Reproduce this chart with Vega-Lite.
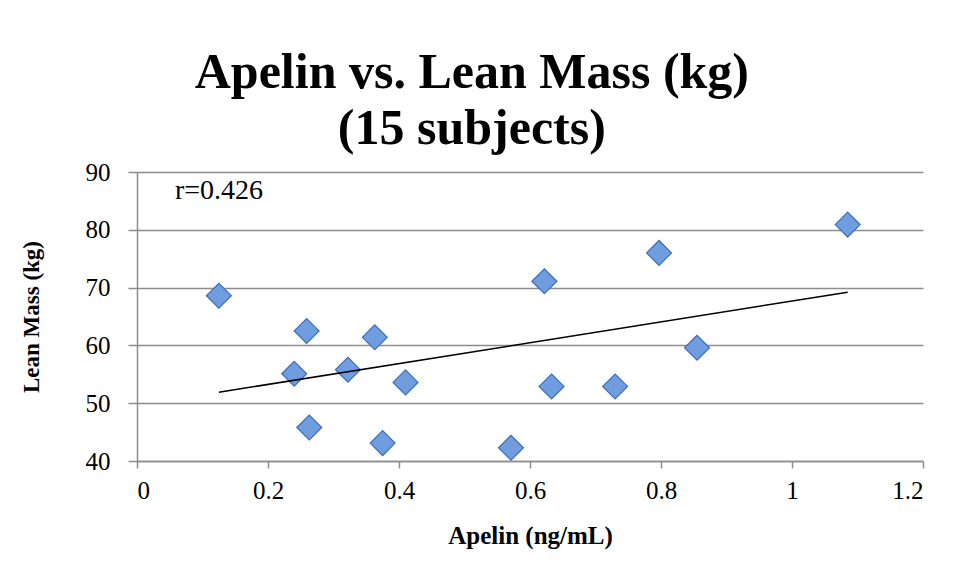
{
  "$schema": "https://vega.github.io/schema/vega-lite/v6.json",
  "autosize": {"type": "none"},
  "width": 786,
  "height": 289,
  "padding": {"left": 137, "top": 172, "right": 34, "bottom": 116},
  "background": "white",
  "title": {
    "text": ["Apelin  vs. Lean Mass (kg)", "(15 subjects)"],
    "font": "Liberation Serif",
    "fontSize": 50,
    "fontWeight": "bold",
    "color": "black",
    "anchor": "middle",
    "frame": "bounds",
    "lineHeight": 56,
    "offset": 6
  },
  "config": {
    "view": {"stroke": null},
    "axis": {
      "labelFont": "Liberation Serif",
      "labelFontSize": 25,
      "labelColor": "black",
      "titleFont": "Liberation Serif",
      "titleFontWeight": "bold",
      "titleColor": "black",
      "domainColor": "#8c8c8c",
      "tickColor": "#8c8c8c",
      "gridColor": "#8c8c8c",
      "domainWidth": 1.5,
      "tickWidth": 1.5,
      "gridWidth": 1.5
    }
  },
  "datasets": {
    "points": [
      {"apelin": 0.125, "lean": 68.6},
      {"apelin": 0.259, "lean": 62.5},
      {"apelin": 0.240, "lean": 55.1},
      {"apelin": 0.322, "lean": 55.8},
      {"apelin": 0.363, "lean": 61.4},
      {"apelin": 0.410, "lean": 53.6},
      {"apelin": 0.263, "lean": 45.8},
      {"apelin": 0.375, "lean": 43.1},
      {"apelin": 0.571, "lean": 42.3},
      {"apelin": 0.622, "lean": 71.1},
      {"apelin": 0.633, "lean": 52.9},
      {"apelin": 0.730, "lean": 52.9},
      {"apelin": 0.797, "lean": 76.0},
      {"apelin": 0.855, "lean": 59.6},
      {"apelin": 1.085, "lean": 80.9}
    ],
    "trend": [
      {"apelin": 0.125, "lean": 51.9},
      {"apelin": 1.085, "lean": 69.2}
    ],
    "note": [
      {"apelin": 0.058, "lean": 85.4, "label": "r=0.426"}
    ]
  },
  "layer": [
    {
      "data": {"name": "points"},
      "mark": {"type": "point", "shape": "diamond", "filled": true, "size": 620, "fill": "#6f9de0", "stroke": "#3d6db5", "strokeWidth": 1.2, "opacity": 1},
      "encoding": {
        "x": {"field": "apelin", "type": "quantitative", "scale": {"domain": [0, 1.2], "nice": false},
          "axis": {"title": "Apelin (ng/mL)", "titleFontSize": 25, "format": "~g", "values": [0, 0.2, 0.4, 0.6, 0.8, 1, 1.2], "grid": false, "tickSize": 7, "labelPadding": 10, "titlePadding": 20}},
        "y": {"field": "lean", "type": "quantitative", "scale": {"domain": [40, 90], "nice": false, "zero": false},
          "axis": {"title": "Lean Mass (kg)", "titleFontSize": 23, "values": [40, 50, 60, 70, 80, 90], "tickSize": 9, "labelPadding": 18, "titlePadding": 42}}
      }
    },
    {
      "data": {"name": "trend"},
      "mark": {"type": "line", "color": "black", "strokeWidth": 1.5},
      "encoding": {
        "x": {"field": "apelin", "type": "quantitative"},
        "y": {"field": "lean", "type": "quantitative"}
      }
    },
    {
      "data": {"name": "note"},
      "mark": {"type": "text", "font": "Liberation Serif", "fontSize": 28, "align": "left", "baseline": "alphabetic", "color": "black"},
      "encoding": {
        "x": {"field": "apelin", "type": "quantitative"},
        "y": {"field": "lean", "type": "quantitative"},
        "text": {"field": "label"}
      }
    }
  ]
}
